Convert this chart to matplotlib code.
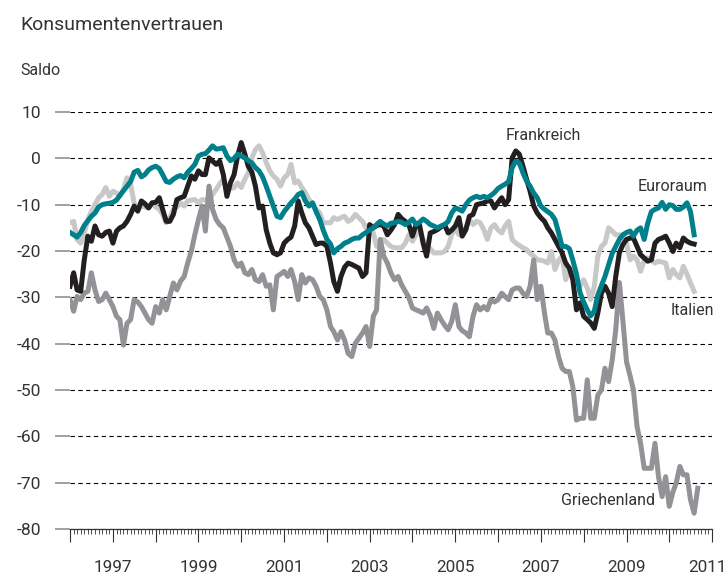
import pandas as pd
import matplotlib.pyplot as plt
import matplotlib.dates as mdates
from matplotlib.ticker import FuncFormatter

plt.rcParams['font.family'] = ['Roboto', 'DejaVu Sans']
plt.rcParams['axes.unicode_minus'] = False

# Monatswerte ab Januar 1996 (Saldo)
frankreich = [-27.6, -24.7, -28.4, -28.7, -22, -16.8, -17.9, -14.6, -16.5, -16.8, -16, -15.7,
              -18.3, -15.7, -15, -14.6, -13.6, -12.1, -10.3, -11.4, -9.2, -9.8, -10.7, -9.6,
              -9.5, -8.5, -11, -13.6, -13.6, -12.1, -8.9, -8.5, -8.2, -6, -3.8, -4.5,
              -2.7, -3.5, -3.5, 0.1, -0.6, -1.3, -0.6, -3.5, -8.2, -5.3, -3.5, 0.5,
              3.4, 0.9, -1.7, -3, -6, -10.7, -10.3, -15.4, -18.3, -20.4, -20.8, -20.4,
              -18.3, -17.5, -17, -14.6, -9.2, -11.8, -13.9, -15, -16.8, -18.6, -18.3, -18.3,
              -19, -22.6, -26.6, -28.7, -25.5, -23.5, -22.6, -22.9, -23.3, -23.7, -25.5, -24.7,
              -14.3, -15, -14.5, -14.3, -14.6, -16.5, -15.5, -14.3, -12.1, -13, -13.6, -14.3,
              -16.8, -14.3, -14.3, -18.3, -21.1, -16.1, -15.8, -15.4, -14.8, -14.3, -16.1, -15.5,
              -14.6, -12.8, -16.8, -15.4, -12.5, -12.1, -10, -9.8, -9.6, -9.2, -9.2, -10.7,
              -9.5, -8.5, -10, -8.9, 0.1, 1.6, 0.9, -1.7, -4.5, -7.1, -10.3, -11.8,
              -12.8, -13.6, -15, -16.1, -17.5, -19, -20.4, -22.6, -23.7, -26.2, -32.7, -31.2,
              -34.1, -34.8, -35.5, -36.7, -33.4, -29.1, -27.6, -29.1, -32, -25.5, -20.4, -18.6,
              -17.5, -17.2, -17.2, -19, -20.8, -21.5, -22.2, -21.9, -18.3, -17.5, -17.2, -16.8,
              -18.3, -20.1, -18.3, -19.3, -17.2, -17.9, -18.3, -18.5]

euroraum = [-16, -16.5, -17, -16, -14.5, -13.5, -12.5, -11.8, -10.5, -10, -9.8, -9.7,
            -9.5, -9, -8, -7, -6, -5, -3, -2.6, -4, -3.5, -2.5, -2,
            -1.7, -2.2, -3.5, -5, -5.2, -4.5, -4, -3.7, -4.2, -3, -2.2, -1.3,
            0.5, 0.9, 1, 1.8, 2.7, 2, 2.1, 2.3, 0.5, -0.5, 0, 0.9,
            0.5, 0.1, -0.5, -1, -2, -2.7, -4, -6, -8.2, -10.3, -12.5, -12.8,
            -11.5, -10.5, -9.6, -8.8, -7.8, -7.4, -9.2, -10.3, -9.6, -11.5, -13.2, -15.5,
            -17.5, -18.5, -20.4, -19.5, -19, -18.3, -18, -17.5, -17.2, -17.2, -16.5, -16,
            -15.5, -15, -14.3, -13.6, -14.2, -14.6, -14, -13.9, -13.6, -13.8, -14.3, -13.8,
            -13.1, -14.3, -13.8, -13.1, -13.6, -14.3, -14.6, -15, -14.6, -14.3, -13.6, -11.8,
            -10.7, -11, -11.4, -10, -9, -8.5, -8.2, -8.5, -8.2, -8.5, -8, -7.4,
            -6.5, -6, -5.6, -5, -2, -0.6, -1, -3.1, -4.9, -6, -7.5, -8.5,
            -10.3, -11, -11.5, -12.1, -13.2, -16, -19, -19, -19.5, -22, -25, -29,
            -31, -32.7, -34, -33, -29.5, -27.5, -25.5, -23, -20.5, -19, -17.5, -16.5,
            -16, -15.7, -16.8, -15.5, -15, -17.5, -14, -11.5, -11, -10.7, -9.5, -11,
            -10, -10.2, -11, -11, -10.5, -9.6, -11.5, -16.5]

italien = [-13.9, -13.6, -17.5, -18.3, -16.1, -13.2, -11.5, -10, -8.5, -7.8, -6.3, -8.2,
           -7.1, -7.5, -8.2, -6.7, -4.2, -5.6, -9.6, -11, -10.3, -10.5, -10.7, -9.6,
           -10.5, -11, -12.1, -13.9, -12.8, -11, -10.5, -9.6, -10.3, -9.2, -9, -8.9,
           -9.6, -8.9, -9, -8.9, -7.8, -6.7, -5.5, -4.5, -6.7, -6.5, -6.3, -5.3,
           -6.3, -4.5, -3.1, 0.1, 1.9, 2.7, 1.2, -0.9, -2.7, -3.8, -4.5, -6,
           -4.2, -3.5, -1.3, -5.3, -4.9, -6.3, -7.4, -8.9, -10, -11, -11.8, -13.9,
           -13.9, -13.9, -12.8, -13.2, -12.8, -12.5, -13.6, -13.2, -12.1, -12.8, -13.6, -15,
           -15, -16.1, -19, -18.3, -17.5, -18.3, -19, -19.3, -19.3, -19.3, -18.3, -16.5,
           -17.9, -16.5, -15, -17.5, -19, -19.5, -20.4, -20.4, -20.4, -20.1, -19, -16.5,
           -15, -16.5, -15.8, -15, -13.2, -14.3, -13.6, -13.9, -15.4, -17.5, -15, -14.3,
           -15.5, -16.1, -14.6, -13.6, -17.5, -18.3, -18.8, -19.3, -19.7, -20.5, -21.1, -21.9,
           -22, -22.2, -22.6, -20.1, -24, -22, -21.1, -26.2, -24, -25, -26.2, -27.6,
           -26.2, -28, -30.5, -27.6, -21.1, -19, -18.3, -15, -15.7, -16.5, -16.5, -16.8,
           -18.3, -21.9, -21.1, -21.9, -24.4, -21.9, -21.5, -22, -22.6, -22.2, -22.4, -22.6,
           -25.8, -24, -25.1, -25.8, -23.3, -25, -26.9, -28.7]

griechenland = [-30.5, -33, -29.8, -30.5, -29.1, -28.7, -24.7, -28.4, -30.9, -30.5, -29.1, -30.5,
                -32, -34.1, -34.8, -40.3, -35.6, -34.8, -30.5, -31, -32, -33.4, -34.8, -35.6,
                -32, -33.4, -30.5, -32.7, -29.8, -26.9, -28.4, -26.5, -25.5, -22.6, -20, -16.5,
                -13.2, -10.3, -15.7, -6, -11, -13.2, -14.3, -15, -17, -19, -21.9, -23.3,
                -22.6, -24.7, -25.1, -24, -26.2, -26.6, -25.1, -27.6, -27.3, -32.7, -25.5, -25,
                -24.4, -25.5, -24, -26.6, -30.5, -25.1, -26.9, -25.8, -26.2, -27.6, -29.8, -30.5,
                -32.7, -36.3, -37.4, -39.2, -37.4, -39.2, -42.1, -42.8, -39.9, -38.8, -37.7, -36.3,
                -40.6, -34.1, -32.7, -17.5, -21.1, -22.6, -24.7, -26.2, -25.5, -27.3, -28.7, -30,
                -32.3, -32.7, -33, -33.4, -32.3, -34, -36.7, -33.4, -34.8, -36, -37, -35.2,
                -31.6, -36.3, -37.2, -37.7, -38.5, -34.1, -31.6, -32.7, -32, -32.7, -30.5, -31,
                -30.5, -29.1, -29.8, -30.5, -28.4, -28, -28, -29.1, -29.8, -27.6, -21.9, -30.5,
                -27.6, -33.4, -37.7, -37.7, -39.2, -42.8, -45.3, -46, -46, -49.3, -56.5, -56.1,
                -56.1, -47.8, -56.1, -56.1, -51.1, -50, -45.3, -48.2, -43.5, -37, -26.8, -35,
                -43.9, -47, -50, -57.9, -61.5, -66.9, -66.9, -66.9, -61.5, -68.7, -73, -68.7,
                -75.1, -72, -70.1, -66.5, -68.3, -68.3, -73.7, -76.6, -71.2]

y_ticks = [10, 0, -10, -20, -30, -40, -50, -60, -70, -80]

text_farbe = '#333333'

fig = plt.figure(figsize=(7.28, 5.81), dpi=100)
ax = fig.add_axes([0.0962, 0.0895, 0.8819, 0.7177])


def monate(werte):
    return pd.date_range('1996-01-01', periods=len(werte), freq='MS')


# Linien zeichnen
ax.plot(monate(italien), italien, color='#c8c8c9', lw=3.6, solid_joinstyle='round')
ax.plot(monate(griechenland), griechenland, color='#929297', lw=3.6, solid_joinstyle='round')
ax.plot(monate(frankreich), frankreich, color='#231f20', lw=3.6, solid_joinstyle='round')
ax.plot(monate(euroraum), euroraum, color='#00808a', lw=3.6, solid_joinstyle='round')

# Achsen
ende = pd.Timestamp('2011-01-01')
ax.set_xlim(pd.Timestamp('1996-01-01'), ende)
ax.set_ylim(-80, 10)
ax.set_yticks(y_ticks)
ax.yaxis.grid(True, color='black', lw=0.8, linestyle=(0, (4, 3)))
ax.set_axisbelow(True)

for s in ['top', 'right', 'left']:
    ax.spines[s].set_visible(False)
ax.spines['bottom'].set_color(text_farbe)
ax.spines['bottom'].set_linewidth(0.9)


def jahr_label(x, pos):
    jahr = mdates.num2date(x).year
    # 2011 steht am Rand, wird weiter unten etwas nach links gesetzt
    if jahr % 2 == 1 and jahr < 2011:
        return str(jahr)
    return ''


ax.xaxis.set_major_locator(mdates.YearLocator(1))
ax.xaxis.set_minor_locator(mdates.MonthLocator())
ax.xaxis.set_major_formatter(FuncFormatter(jahr_label))

ax.tick_params(axis='x', which='major', length=9.5, width=0.8, color=text_farbe,
               pad=13, labelsize=12.3, labelcolor=text_farbe)
ax.tick_params(axis='x', which='minor', length=3.8, width=0.6, color=text_farbe)
ax.tick_params(axis='y', length=11, width=1.3, color='#999999', pad=10,
               labelsize=12.5, labelcolor=text_farbe)

ax.annotate('2011', xy=(mdates.date2num(ende), 0), xycoords=ax.get_xaxis_transform(),
            xytext=(-3, -22.5), textcoords='offset points', ha='center', va='top',
            fontsize=12.3, color=text_farbe, annotation_clip=False)

# Beschriftungen der Reihen
ax.text(pd.Timestamp('2007-01-25'), 3.9, 'Frankreich', ha='center', va='baseline',
        fontsize=11.5, color=text_farbe)
ax.text(pd.Timestamp('2010-02-01'), -7.1, 'Euroraum', ha='center', va='baseline',
        fontsize=11.5, color=text_farbe)
ax.text(pd.Timestamp('2010-07-15'), -33.8, 'Italien', ha='center', va='baseline',
        fontsize=11.5, color=text_farbe)
ax.text(pd.Timestamp('2008-07-30'), -74.9, 'Griechenland', ha='center', va='baseline',
        fontsize=11.5, color=text_farbe)

# Titel
fig.text(0.0275, 0.9484, 'Konsumentenvertrauen', fontsize=14, color=text_farbe, va='baseline')
fig.text(0.0275, 0.871, 'Saldo', fontsize=11.5, color=text_farbe, va='baseline')

fig.savefig('out.png', dpi=100)
